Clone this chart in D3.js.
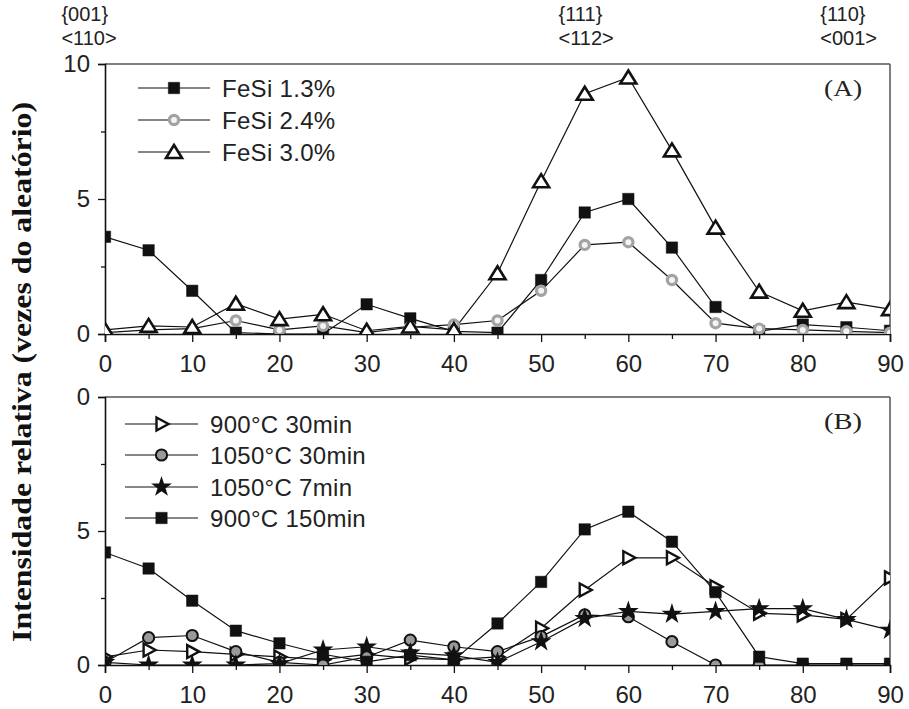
<!DOCTYPE html>
<html><head><meta charset="utf-8">
<script src="https://cdn.jsdelivr.net/npm/d3@7"></script>
<style>body{margin:0;background:#fff}svg{display:block}</style>
</head><body>
<svg id="chart" width="909" height="709"></svg>
<script>
// ---- data ----
const angles = [0,5,10,15,20,25,30,35,40,45,50,55,60,65,70,75,80,85,90];
// Panel A
const fesi13 = [3.6,3.1,1.6,0.05,0,0,1.1,0.58,0.1,0.05,2.0,4.5,5.0,3.2,1.0,0.1,0.35,0.25,0.12];
const fesi24 = [0.05,0.15,0.2,0.5,0.15,0.3,0.05,0.25,0.35,0.5,1.6,3.3,3.4,2.0,0.4,0.2,0.15,0.1,0.05];
const fesi30 = [0.15,0.3,0.26,1.12,0.55,0.73,0.12,0.28,0.15,2.25,5.66,8.9,9.5,6.8,3.94,1.57,0.86,1.18,0.92];
// Panel B
const t900_30  = [0.3,0.56,0.5,0.4,0.3,0.2,0.4,0.25,0.2,0.3,1.37,2.8,4.0,4.0,2.92,1.93,1.87,1.7,3.25];
const c1050_30 = [0.1,1.02,1.1,0.5,0.1,0,0.3,0.93,0.68,0.5,1.06,1.87,1.8,0.87,0,0,0,0,0];
const s1050_7  = [0.1,0,0,0,0.05,0.56,0.68,0.45,0.35,0.1,0.87,1.74,2.0,1.9,2.0,2.1,2.1,1.7,1.3];
const sq900_150= [4.2,3.6,2.4,1.28,0.81,0.4,0.12,0.37,0.19,1.55,3.1,5.06,5.72,4.6,2.72,0.31,0.05,0.05,0.05];

const namesA = ["FeSi 1.3%","FeSi 2.4%","FeSi 3.0%"];
const namesB = ["900°C 30min","1050°C 30min","1050°C 7min","900°C 150min"];
const xMajorTicks = [0,10,20,30,40,50,60,70,80,90];
const xMinorTicks = [5,15,25,35,45,55,65,75,85];
const yMajorTicks = [0,5,10];
const yMinorTicks = [2.5,7.5];
const yTickLabelsA = ["0","5","10"];
const yTickLabelsB = ["0","5","0"];
const orientLabels = [
  {x:-5, top:"{001}", bottom:"<110>"},
  {x:52, top:"{111}", bottom:"<112>"},
  {x:82, top:"{110}", bottom:"<001>"}
];
const yTitle = "Intensidade relativa (vezes do aleatório)";

// ---- layout ----
const svg = d3.select("#chart");
const X0 = 105, X1 = 890;
const x = d3.scaleLinear().domain([0,90]).range([X0,X1]);
const yA = d3.scaleLinear().domain([0,10]).range([334,64]);
const yB = d3.scaleLinear().domain([0,10]).range([665,397]);
const sans = "'Liberation Sans', Arial, Helvetica, sans-serif";
const serif = "'Liberation Serif', 'Times New Roman', serif";

// marker factories
function square(g){ g.append("path").attr("d", d3.symbol(d3.symbolSquare, 130)()).attr("fill","#111").attr("stroke","#111").attr("stroke-width",0.5); }
function ringGray(g){ g.append("circle").attr("r",4.6).attr("fill","#f4f4f4").attr("stroke","#a3a3a3").attr("stroke-width",3.2); }
function triUp(g){ g.append("path").attr("d","M0,-7 L8,6 L-8,6 Z").attr("fill","#fff").attr("stroke","#111").attr("stroke-width",2.6).attr("stroke-linejoin","miter"); }
function triRight(g){ g.append("path").attr("d","M-5,-6.5 L7,0 L-5,6.5 Z").attr("fill","#fff").attr("stroke","#111").attr("stroke-width",2.4); }
function circGray(g){ g.append("circle").attr("r",5.6).attr("fill","#9a9a9a").attr("stroke","#111").attr("stroke-width",2); }
function star(g){ g.append("path").attr("d", d3.symbol(d3.symbolStar, 135)()).attr("fill","#111"); }

function panel(id, y, series, names, tickLabels, tag){
  const g = svg.append("g");
  const top = y.range()[1], bot = y.range()[0];
  g.append("clipPath").attr("id","clip"+id).append("rect")
    .attr("x",X0).attr("y",top).attr("width",X1-X0).attr("height",bot-top);
  // frame top/right
  g.append("line").attr("x1",X0).attr("x2",X1).attr("y1",top).attr("y2",top).attr("stroke","#555").attr("stroke-width",1.5);
  g.append("line").attr("x1",X1).attr("x2",X1).attr("y1",top).attr("y2",bot).attr("stroke","#555").attr("stroke-width",1.5);
  // x axis
  g.append("g").attr("transform",`translate(0,${bot})`)
    .call(d3.axisBottom(x).tickValues(xMajorTicks).tickSize(8).tickPadding(13).tickFormat(d3.format("d")));
  g.append("g").attr("transform",`translate(0,${bot})`)
    .call(d3.axisBottom(x).tickValues(xMinorTicks).tickSize(5).tickFormat(""))
    .call(s=>s.select(".domain").remove());
  // y axis
  g.append("g").attr("transform",`translate(${X0},0)`)
    .call(d3.axisLeft(y).tickValues(yMajorTicks).tickSize(7).tickPadding(8).tickFormat((d,i)=>tickLabels[i]));
  g.append("g").attr("transform",`translate(${X0},0)`)
    .call(d3.axisLeft(y).tickValues(yMinorTicks).tickSize(4).tickFormat(""))
    .call(s=>s.select(".domain").remove());
  g.selectAll(".domain").attr("stroke","#111").attr("stroke-width",1.6);
  g.selectAll(".tick line").attr("stroke","#111").attr("stroke-width",1.3);
  g.selectAll(".tick text").attr("font-family",sans).attr("font-size",24).attr("fill","#222");
  // lines & markers
  const plot = g.append("g").attr("clip-path",`url(#clip${id})`);
  const line = d3.line().x((d,i)=>x(angles[i])).y(d=>y(d));
  series.forEach(s=>{
    plot.append("path").datum(s.values).attr("d",line).attr("fill","none").attr("stroke","#111").attr("stroke-width",1.2);
  });
  series.forEach(s=>{
    s.values.forEach((v,i)=>{
      const m = plot.append("g").attr("transform",`translate(${x(angles[i])},${y(v)})`);
      s.marker(m);
    });
  });
  // legend
  const lg = g.append("g");
  series.forEach((s,k)=>{
    const ly = s.legendY;
    lg.append("line").attr("x1",s.lx0).attr("x2",s.lx1).attr("y1",ly).attr("y2",ly).attr("stroke","#111").attr("stroke-width",1.2);
    s.marker(lg.append("g").attr("transform",`translate(${(s.lx0+s.lx1)/2},${ly})`));
    lg.append("text").attr("x",s.lx1+12).attr("y",ly).attr("dy","0.36em").attr("font-family",sans).attr("font-size",24)
      .attr("letter-spacing","0.3px").attr("fill","#222").text(names[k]);
  });
  g.append("text").attr("x",x(86.8)).attr("y",top+24).attr("dy","0.35em").attr("text-anchor","end")
    .attr("font-family",serif).attr("font-size",23).attr("textLength",38).attr("lengthAdjust","spacingAndGlyphs")
    .attr("fill","#222").text(tag);
}

panel("A", yA, [
  {values:fesi13, marker:square, legendY:88, lx0:138, lx1:210},
  {values:fesi24, marker:ringGray, legendY:120, lx0:138, lx1:210},
  {values:fesi30, marker:triUp, legendY:152, lx0:138, lx1:210}
], namesA, yTickLabelsA, "(A)");

panel("B", yB, [
  {values:t900_30, marker:triRight, legendY:424, lx0:125, lx1:198},
  {values:c1050_30, marker:circGray, legendY:455, lx0:125, lx1:198},
  {values:s1050_7, marker:star, legendY:487, lx0:125, lx1:198},
  {values:sq900_150, marker:square, legendY:518, lx0:125, lx1:198}
], namesB, yTickLabelsB, "(B)");

// orientation labels
orientLabels.forEach(o=>{
  svg.append("text").attr("x",x(o.x)).attr("y",14).attr("dy","0.35em").attr("font-family",sans).attr("font-size",20).attr("fill","#222").text(o.top);
  svg.append("text").attr("x",x(o.x)).attr("y",38).attr("dy","0.35em").attr("font-family",sans).attr("font-size",20).attr("fill","#222").text(o.bottom);
});

// y title
svg.append("text").attr("transform","translate(22,372) rotate(-90)").attr("text-anchor","middle").attr("dy","0.35em")
  .attr("font-family",serif).attr("font-weight","bold").attr("font-size",27)
  .attr("textLength",540).attr("lengthAdjust","spacingAndGlyphs")
  .attr("fill","#111").text(yTitle);
</script>
</body></html>
